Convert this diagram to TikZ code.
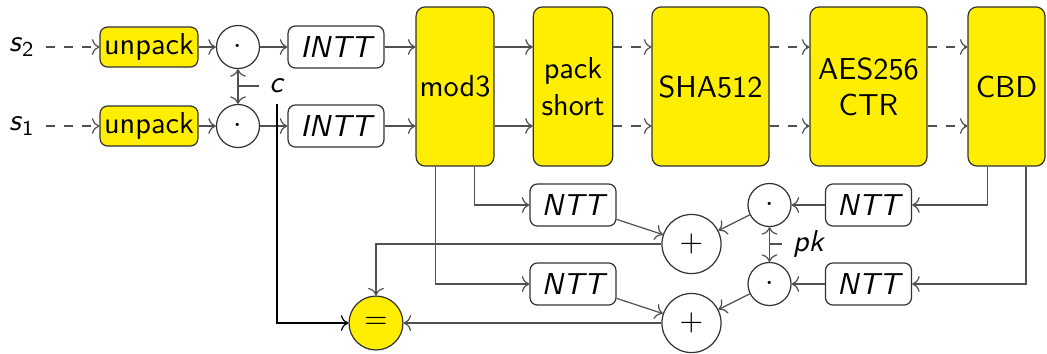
\documentclass[tikz,border=0pt]{standalone}
\usepackage{tikz}
\usetikzlibrary{arrows.meta}
\renewcommand{\familydefault}{\sfdefault}
\definecolor{hwyellow}{RGB}{255,238,0}
\definecolor{hwgray}{RGB}{80,80,80}
\definecolor{hwborder}{RGB}{50,50,50}

\begin{document}
\begin{tikzpicture}[x=0.33pt, y=-0.33pt,
  box/.style={draw=hwborder, rounded corners=2.5pt, inner sep=1pt, minimum height=13.9pt, font=\itshape},
  ybox/.style={box, fill=hwyellow, minimum height=13.2pt, font=\upshape},
  big/.style={draw=hwborder, fill=hwyellow, rounded corners=3pt, minimum height=52.5pt, inner sep=1pt, align=center},
  op/.style={draw=hwborder, circle, inner sep=0pt, minimum size=14.2pt},
  arr/.style={->, hwgray},
  darr/.style={->, hwgray, dashed}
]
\useasboundingbox (0,0) rectangle (1047,353);
\node (s2) at (22,47) {\textit{s}\textsubscript{2}};
\node (s1) at (22,126) {\textit{s}\textsubscript{1}};
\node[ybox, minimum width=32.3pt] (unpack2) at (149,47) {unpack};
\node[ybox, minimum width=32.3pt] (unpack1) at (149,126) {unpack};
\node[op] (mul2) at (238,47) {$\cdot$};
\node[op] (mul1) at (238,126) {$\cdot$};
\node (c) at (277,86) {\textit{c}};
\node[box, minimum width=31.7pt] (intt2) at (336,47) {INTT};
\node[box, minimum width=31.7pt] (intt1) at (336,126) {INTT};
\node[big, minimum width=25.7pt] (mod3) at (455,86.5) {mod3};
\node[big, minimum width=26.2pt] (pack) at (573,86.5) {pack\\short};
\node[big, minimum width=38.6pt] (sha) at (710.5,86.5) {SHA512};
\node[big, minimum width=38.6pt] (aes) at (868.5,86.5) {AES256\\CTR};
\node[big, minimum width=25.4pt] (cbd) at (1006.5,86.5) {CBD};
\node[box, minimum width=28.4pt] (ntta) at (573,205) {NTT};
\node[box, minimum width=28.4pt] (nttb) at (573,284) {NTT};
\node[op, minimum size=19.5pt] (plusa) at (691.5,244) {$+$};
\node[op, minimum size=19.5pt] (plusb) at (691.5,323) {$+$};
\node[op] (mula) at (769.5,205) {$\cdot$};
\node[op] (mulb) at (769.5,284) {$\cdot$};
\node (pk) at (809,244) {\textit{pk}};
\node[box, minimum width=28.4pt] (nttc) at (868.5,205) {NTT};
\node[box, minimum width=28.4pt] (nttd) at (868.5,284) {NTT};
\node[op, fill=hwyellow, minimum size=17.8pt] (eq) at (376,323) {$=$};

\draw[darr] (s2) -- (unpack2);
\draw[darr] (s1) -- (unpack1);
\draw[arr] (unpack2) -- (mul2);
\draw[arr] (unpack1) -- (mul1);
\draw[arr] (mul2) -- (intt2);
\draw[arr] (mul1) -- (intt1);
\draw[arr] (intt2) -- (intt2 -| mod3.west);
\draw[arr] (intt1) -- (intt1 -| mod3.west);
\draw[arr] (mod3.east |- intt2) -- (pack.west |- intt2);
\draw[arr] (mod3.east |- intt1) -- (pack.west |- intt1);
\draw[darr] (pack.east |- intt2) -- (sha.west |- intt2);
\draw[darr] (pack.east |- intt1) -- (sha.west |- intt1);
\draw[darr] (sha.east |- intt2) -- (aes.west |- intt2);
\draw[darr] (sha.east |- intt1) -- (aes.west |- intt1);
\draw[darr] (aes.east |- intt2) -- (cbd.west |- intt2);
\draw[darr] (aes.east |- intt1) -- (cbd.west |- intt1);
\draw[arr, <->] (mul2) -- (mul1);
\draw[hwgray] (c.west) -- (c.west -| mul2);
\draw[->] (c.south) |- (eq);
\draw[arr] ([xshift=6.4pt]mod3.south) |- (ntta);
\draw[arr] ([xshift=-6.4pt]mod3.south) |- (nttb);
\draw[arr] ([xshift=-6.4pt]cbd.south) |- (nttc);
\draw[arr] ([xshift=6.4pt]cbd.south) |- (nttd);
\draw[arr] (nttc) -- (mula);
\draw[arr] (nttd) -- (mulb);
\draw[arr] (ntta) -- (plusa);
\draw[arr] (nttb) -- (plusb);
\draw[arr] (mula) -- (plusa);
\draw[arr] (mulb) -- (plusb);
\draw[arr, <->] (mula) -- (mulb);
\draw[hwgray] (pk.west) -- (pk.west -| mula);
\draw[arr] (plusa) -| (eq);
\draw[arr] (plusb) -- (eq);
\end{tikzpicture}
\end{document}
